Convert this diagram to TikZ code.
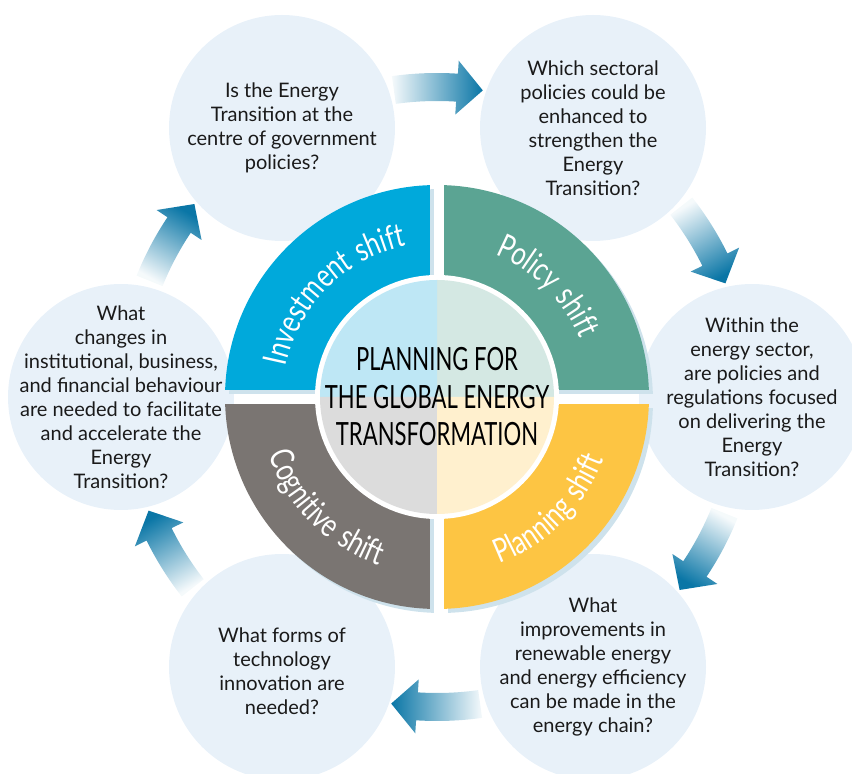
\documentclass[tikz,border=0pt]{standalone}
\usepackage{fontspec}
\setmainfont{Lato}
\newfontfamily\condfont[FakeStretch=0.69]{Lato}
\newfontfamily\bandfam[FakeStretch=0.76, LetterSpace=6]{Lato}
\usetikzlibrary{calc, positioning, decorations.text}
\definecolor{RingBlue}{RGB}{0,169,219}
\definecolor{RingGreen}{RGB}{91,164,147}
\definecolor{RingYellow}{RGB}{253,197,67}
\definecolor{RingGrey}{RGB}{122,117,114}
\definecolor{InBlue}{RGB}{190,231,245}
\definecolor{InGreen}{RGB}{212,232,227}
\definecolor{InYellow}{RGB}{255,240,206}
\definecolor{InGrey}{RGB}{220,220,220}
\definecolor{BubbleFill}{RGB}{232,241,249}
\definecolor{ArrowDark}{RGB}{10,118,166}
\definecolor{ShadowBlue}{RGB}{206,226,236}
\definecolor{TextDark}{RGB}{26,26,26}
\newcommand{\bandfont}{\bandfam\fontsize{33}{33}\selectfont\color{white}}

\begin{document}
\begin{tikzpicture}[
    x=1pt, y=1pt,
    % Styles
    bubble/.style={circle, fill=BubbleFill, minimum size=226pt, inner sep=0pt},
    question/.style={align=center, text=TextDark, inner sep=0pt, font=\fontsize{20}{24}\selectfont},
    title/.style={align=center, text=black, inner sep=0pt, font=\condfont\fontsize{32}{37.5}\selectfont},
    flow/.style={top color=ArrowDark!4, bottom color=ArrowDark},
    band/.style={decorate, decoration={text along path, text align=center, text={|\bandfont|#1}}}
]
    \useasboundingbox (0,0) rectangle (852,774);
    \clip (0,0) rectangle (852,774);
    \coordinate (hub) at (437,377);

    % 1. THE QUESTION BUBBLES
    \node[bubble] (q1) at (282,646) {};
    \node[bubble] (q2) at (593,646) {};
    \node[bubble] (q3) at (752,377) {};
    \node[bubble] (q4) at (593,107) {};
    \node[bubble] (q5) at (282,107) {};
    \node[bubble] (q6) at (121,377) {};

    \node[question] (q1text) at (q1) {Is the Energy\\Transition at the\\centre of government\\policies?};
    \node[question] (q2text) at (q2) {Which sectoral\\policies could be\\enhanced to\\strengthen the\\Energy\\Transition?};
    \node[question] (q3text) at (q3) {Within the\\energy sector,\\are policies and\\regulations focused\\on delivering the\\Energy\\Transition?};
    \node[question] (q4text) at (q4) {What\\improvements in\\renewable energy\\and energy efficiency\\can be made in the\\energy chain?};
    \node[question] (q5text) at ($(q5)+(0,-4)$) {What forms of\\technology\\innovation are\\needed?};
    \node[question] (q6text) at (q6) {What\\changes in\\institutional, business,\\and financial behaviour\\are needed to facilitate\\and accelerate the\\Energy\\Transition?};

    % 2. THE CYCLE ARROWS (clockwise)
    \foreach \a in {90,30,-30,-90,-150,150} {
        \shade[flow, shading angle=\a, shift={(hub)}]
            ({\a+8}:324) arc[start angle=\a+8, end angle=\a-3.7, radius=324]
            -- ({\a-3.7}:337) -- ({\a-8.5}:310) -- ({\a-3.7}:283)
            -- ({\a-3.7}:296) arc[start angle=\a-3.7, end angle=\a+8, radius=296]
            -- cycle;
    }

    % 3. THE RING OF SHIFTS
    \foreach \q/\col in {0/RingGreen, 90/RingBlue, 180/RingGrey, 270/RingYellow} {
        \fill[ShadowBlue, shift={(hub)}, xshift=4, yshift=-4]
            ({\q+45}:9.9) -- ({\q+1.9}:212) arc[start angle=\q+1.9, end angle=\q+88.1, radius=212] -- cycle;
    }
    \foreach \q/\col in {0/RingGreen, 90/RingBlue, 180/RingGrey, 270/RingYellow} {
        \fill[\col, shift={(hub)}]
            ({\q+45}:9.9) -- ({\q+1.9}:212) arc[start angle=\q+1.9, end angle=\q+88.1, radius=212] -- cycle;
    }
    \fill[white] (hub) circle[radius=122];
    \foreach \q/\col in {0/InGreen, 90/InBlue, 180/InGrey, 270/InYellow} {
        \fill[\col, shift={(hub)}] (0,0) -- (\q:117) arc[start angle=\q, end angle=\q+90, radius=117] -- cycle;
    }

    % 4. THE SHIFT LABELS
    \path[band=Investment shift, shift={(hub)}] (180:154) arc[start angle=180, end angle=90, radius=154];
    \path[band=Policy shift, shift={(hub)}] (90:154) arc[start angle=90, end angle=0, radius=154];
    \path[band=Planning shift, shift={(hub)}] (-90:178) arc[start angle=-90, end angle=0, radius=178];
    \path[band=Cognitive shift, shift={(hub)}] (180:178) arc[start angle=180, end angle=270, radius=178];

    % 5. THE CORE
    \node[title] (core) at (hub) {PLANNING FOR\\THE GLOBAL ENERGY\\TRANSFORMATION};
\end{tikzpicture}
\end{document}
